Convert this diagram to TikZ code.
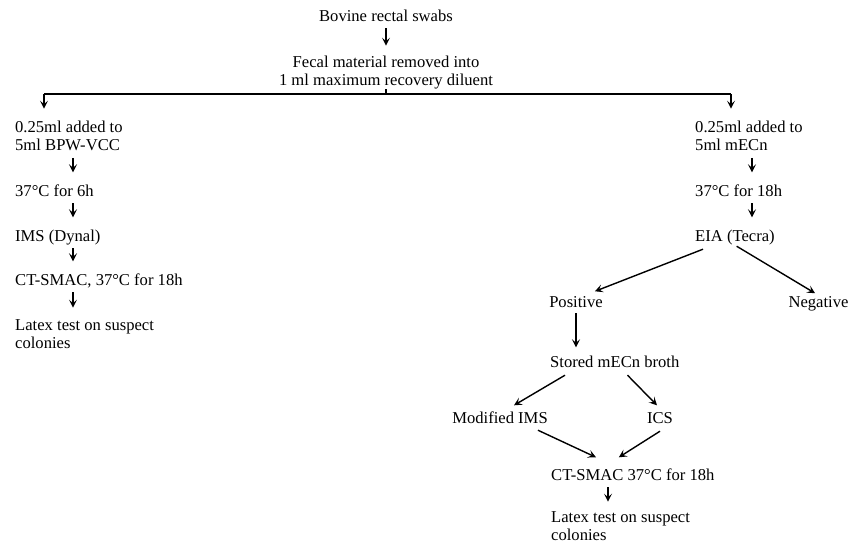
\documentclass[tikz,border=0pt]{standalone}
\usepackage{fontspec}
\setmainfont{Liberation Serif}
\usetikzlibrary{arrows.meta}
\newcommand\figfont{\fontsize{16.6}{18}\selectfont}
\tikzset{
  txt/.style={inner sep=0pt, font=\figfont, text height=11.5pt, text depth=4pt},
  txtml/.style={inner sep=0pt, font=\figfont, align=left},
  arr/.style={line width=1.4pt, -{Stealth[length=8pt,width=8pt,inset=3.5pt]}},
  vgap/.style={shorten <=3pt, shorten >=12pt}
}

\begin{document}
\begin{tikzpicture}[x=1pt,y=-1pt]
      \useasboundingbox (0,0) rectangle (849,546);

      % TETE
      \node[txt, anchor=base] (bov) at (386,21) {Bovine rectal swabs};
      \node[txtml, align=center, anchor=north] (fec) at (386,55.7) {Fecal material removed into\\1 ml maximum recovery diluent};

      % BARRE
      \coordinate (bl) at (44,94);
      \coordinate (br) at (731,94);

      % COLONNE GAUCHE
      \node[txtml, anchor=north west] (la) at (15,120.7) {0.25ml added to\\5ml BPW-VCC};
      \node[txt, anchor=base west] (lb) at (15,196) {37\textdegree C for 6h};
      \node[txt, anchor=base west] (lc) at (15,241) {IMS (Dynal)};
      \node[txt, anchor=base west] (ld) at (15,285) {CT-SMAC, 37\textdegree C for 18h};
      \node[txtml, anchor=north west] (le) at (15,319.7) {Latex test on suspect\\colonies};
      \coordinate (lx) at (73,0);

      % COLONNE DROITE
      \node[txtml, anchor=north west] (ra) at (695,120.7) {0.25ml added to\\5ml mECn};
      \node[txt, anchor=base west] (rb) at (695,196) {37\textdegree C for 18h};
      \node[txt, anchor=base west] (rc) at (695,241) {EIA (Tecra)};
      \node[txt, anchor=base] (pos) at (576,307) {Positive};
      \node[txt, anchor=base] (neg) at (818.5,307) {Negative};
      \node[txt, anchor=base west] (sto) at (550,367) {Stored mECn broth};
      \node[txt, anchor=base] (mod) at (500,423) {Modified IMS};
      \node[txt, anchor=base] (ics) at (660,423) {ICS};
      \node[txt, anchor=base west] (ct) at (551,480) {CT-SMAC 37\textdegree C for 18h};
      \node[txtml, anchor=north west] (lt) at (551,511.7) {Latex test on suspect\\colonies};
      \coordinate (rx) at (752,0);

      % FLECHES TETE
      \draw[arr, shorten <=3pt, shorten >=10pt] (bov.south) -- (fec.north);
      \draw[line width=1.4pt] (fec.south) -- (fec.south |- bl);
      \draw[line width=1.6pt] (bl) -- (br);
      \draw[arr, shorten >=12pt] (bl) -- (bl |- la.north);
      \draw[arr, shorten >=12pt] (br) -- (br |- ra.north);

      % FLECHES GAUCHE
      \draw[arr, vgap, shorten <=7pt] (la.south -| lx) -- (lb.north -| lx);
      \draw[arr, vgap] (lb.south -| lx) -- (lc.north -| lx);
      \draw[arr, vgap] (lc.south -| lx) -- (ld.north -| lx);
      \draw[arr, vgap] (ld.south -| lx) -- (le.north -| lx);

      % FLECHES DROITE
      \draw[arr, vgap, shorten <=7pt] (ra.south -| rx) -- (rb.north -| rx);
      \draw[arr, vgap] (rb.south -| rx) -- (rc.north -| rx);
      \draw[arr] ([xshift=8pt,yshift=-4pt]rc.south west) -- ([xshift=-8pt,yshift=4pt]pos.north east);
      \draw[arr, shorten <=2pt, shorten >=4pt] (rc.south) -- (neg.north);
      \draw[arr, shorten <=2pt, shorten >=8pt] (pos.south) -- (pos.south |- sto.north);
      \draw[arr] ([xshift=15pt,yshift=-4pt]sto.south west) -- ([xshift=14pt,yshift=6pt]mod.north);
      \draw[arr] ([xshift=-52pt,yshift=-4pt]sto.south east) -- ([xshift=-3pt,yshift=6pt]ics.north);
      \draw[arr] ([xshift=-10pt,yshift=-3pt]mod.south east) -- ([xshift=45pt,yshift=11pt]ct.north west);
      \draw[arr] ([yshift=-4pt]ics.south) -- ([xshift=-14pt,yshift=11pt]ct.north);
      \draw[arr, shorten <=3pt, shorten >=10pt] ([xshift=57pt]ct.south west) -- ([xshift=57pt]ct.south west |- lt.north);
\end{tikzpicture}
\end{document}
